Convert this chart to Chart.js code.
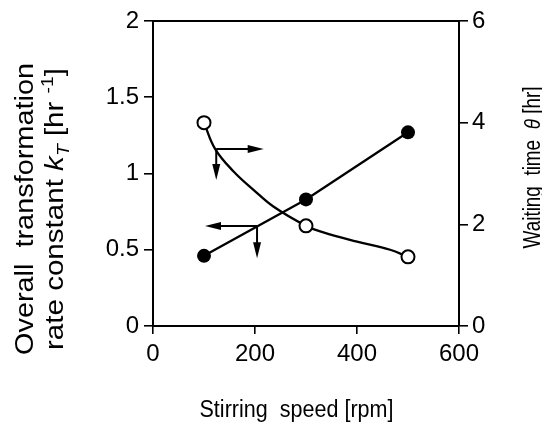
<!DOCTYPE html>
<html><head><meta charset="utf-8">
<script src="https://cdn.jsdelivr.net/npm/chart.js@4"></script>
<style>html,body{margin:0;padding:0;background:#fff}#wrap{width:542px;height:424px;position:relative}</style>
</head><body><div id="wrap"><canvas id="c"></canvas></div>
<script>
// ---- data ----
const speeds = [100, 300, 500];                 // Stirring speed [rpm]
const rateConstant = [0.46, 0.83, 1.27];        // kT [hr-1] (filled circles, left axis)
const waitingTime = [4.0, 1.97, 1.36];          // theta [hr] (open circles, right axis)
const curveSpeeds = [100, 122, 158, 197, 236, 300, 334, 400, 465, 500];   // fitted curve
const curveWaiting = [4.0, 3.48, 3.04, 2.68, 2.35, 1.97, 1.84, 1.66, 1.50, 1.36];
const xTicks = [0, 200, 400, 600];
const kTicks = [0, 0.5, 1, 1.5, 2];
const thetaTicks = [0, 2, 4, 6];
// arrow annotations (data units): origin, horizontal tip x, vertical tip y
const arrowAxis = ['y2', 'y'];
const arrowX = [124, 204];
const arrowY = [3.48, 0.656];
const arrowTipX = [217, 102];
const arrowTipY = [2.87, 0.444];

const FAM = "'Liberation Sans', Arial, Helvetica, sans-serif";

function head(ctx, x1, y1, x2, y2) {
  const a = Math.atan2(y2 - y1, x2 - x1), L = 16, W = 4;
  ctx.beginPath();
  ctx.moveTo(x2, y2);
  ctx.lineTo(x2 - L * Math.cos(a) + W * Math.sin(a), y2 - L * Math.sin(a) - W * Math.cos(a));
  ctx.lineTo(x2 - L * Math.cos(a) - W * Math.sin(a), y2 - L * Math.sin(a) + W * Math.cos(a));
  ctx.closePath();
  ctx.fill();
}
function arrow(ctx, x1, y1, x2, y2) {
  const a = Math.atan2(y2 - y1, x2 - x1);
  ctx.beginPath();
  ctx.moveTo(x1, y1);
  ctx.lineTo(x2 - 10 * Math.cos(a), y2 - 10 * Math.sin(a));
  ctx.stroke();
  head(ctx, x1, y1, x2, y2);
}
function runs(ctx, parts, cx, cy, rot, target) {
  ctx.save();
  ctx.textAlign = 'left';
  ctx.textBaseline = 'alphabetic';
  ctx.fillStyle = '#000';
  let total = 0;
  const ws = parts.map(p => { ctx.font = p.f; const w = ctx.measureText(p.t).width; total += w; return w; });
  ctx.translate(cx, cy);
  ctx.rotate(rot);
  ctx.scale(target / total, 1);
  let x = -total / 2;
  parts.forEach((p, i) => { ctx.font = p.f; ctx.fillText(p.t, x, p.dy || 0); x += ws[i]; });
  ctx.restore();
}

const decor = {
  id: 'decor',
  afterDatasetsDraw(chart) {
    const ctx = chart.ctx, ca = chart.chartArea, xs = chart.scales.x;
    ctx.save();
    ctx.strokeStyle = '#000';
    ctx.fillStyle = '#000';
    ctx.lineWidth = 2;
    ctx.beginPath();
    ctx.moveTo(ca.left - 1, ca.top);
    ctx.lineTo(ca.right + 1, ca.top);
    ctx.stroke();
    for (let i = 0; i < arrowX.length; i++) {
      const ys = chart.scales[arrowAxis[i]];
      const ox = xs.getPixelForValue(arrowX[i]), oy = ys.getPixelForValue(arrowY[i]);
      arrow(ctx, ox, oy, xs.getPixelForValue(arrowTipX[i]), oy);
      arrow(ctx, ox, oy, ox, ys.getPixelForValue(arrowTipY[i]));
    }
    ctx.restore();
  },
  afterDraw(chart) {
    const ctx = chart.ctx;
    const R = '26px ' + FAM, I = 'italic 26px ' + FAM, S = '17px ' + FAM, SI = 'italic 17px ' + FAM;
    runs(ctx, [{t: 'Overall  transformation', f: R}], 33, 209, -Math.PI / 2, 292);
    runs(ctx, [
      {t: 'rate constant ', f: R}, {t: 'k', f: I}, {t: 'T', f: SI, dy: 6},
      {t: ' [hr ', f: R}, {t: '-1', f: S, dy: -10}, {t: ']', f: R}
    ], 63, 209, -Math.PI / 2, 282);
    const R2 = '23px ' + FAM, I2 = 'italic 23px ' + FAM;
    runs(ctx, [{t: 'Waiting  time  ', f: R2}, {t: 'θ', f: I2}, {t: ' [hr]', f: R2}], 540, 167.5, -Math.PI / 2, 162);
    const R3 = '23px ' + FAM;
    runs(ctx, [{t: 'Stirring  speed [rpm]', f: R3}], 296.5, 417, 0, 194);
  }
};

function tickSetter(arr) { return s => { s.ticks = arr.map(v => ({value: v})); }; }
const tickFont = {family: FAM, size: 24};
const gridOpt = {drawOnChartArea: false, drawTicks: true, tickLength: 9, color: '#000', lineWidth: 1.6};
const borderOpt = {color: '#000', width: 2};

new Chart(document.getElementById('c'), {
  type: 'scatter',
  data: {
    datasets: [
      {
        data: speeds.map((x, i) => ({x, y: waitingTime[i]})), yAxisID: 'y2', showLine: false,
        pointRadius: 6.5, pointBackgroundColor: '#fff', pointBorderColor: '#000', pointBorderWidth: 2
      },
      {
        data: speeds.map((x, i) => ({x, y: rateConstant[i]})), yAxisID: 'y', showLine: true,
        borderColor: '#000', borderWidth: 2.3, tension: 0,
        pointRadius: 7, pointBackgroundColor: '#000', pointBorderColor: '#000', pointBorderWidth: 0
      },
      {
        data: curveSpeeds.map((x, i) => ({x, y: curveWaiting[i]})), yAxisID: 'y2', showLine: true,
        borderColor: '#000', borderWidth: 2.3, tension: 0.4, pointRadius: 0
      }
    ]
  },
  options: {
    responsive: true, maintainAspectRatio: false, animation: false, events: [],
    layout: {padding: {top: 21, left: 0, right: 0, bottom: 0}},
    plugins: {legend: {display: false}, tooltip: {enabled: false}},
    scales: {
      x: {
        type: 'linear', min: 0, max: 600, afterBuildTicks: tickSetter(xTicks),
        afterFit: s => { s.height = 98; },
        grid: Object.assign({}, gridOpt, {tickLength: 8}), border: borderOpt,
        ticks: {color: '#000', font: tickFont, padding: 6, maxRotation: 0, callback: v => String(v)}
      },
      y: {
        type: 'linear', position: 'left', min: 0, max: 2, afterBuildTicks: tickSetter(kTicks),
        afterFit: s => { s.width = 153; },
        grid: gridOpt, border: borderOpt,
        ticks: {color: '#000', font: tickFont, padding: 5, callback: v => String(v)}
      },
      y2: {
        type: 'linear', position: 'right', min: 0, max: 6, afterBuildTicks: tickSetter(thetaTicks),
        afterFit: s => { s.width = 83; },
        grid: gridOpt, border: borderOpt,
        ticks: {color: '#000', font: tickFont, padding: 4, callback: v => String(v)}
      }
    }
  },
  plugins: [decor]
});
</script>
</body></html>
